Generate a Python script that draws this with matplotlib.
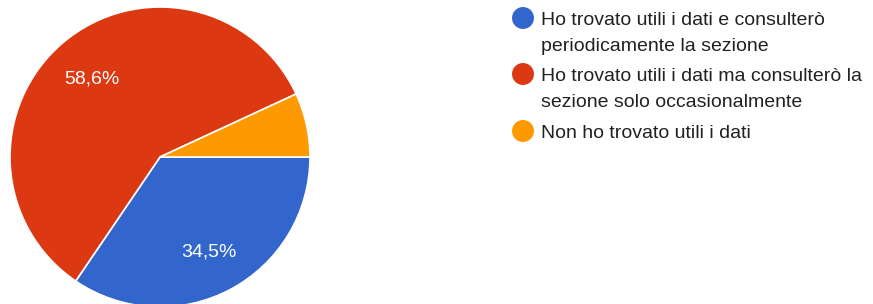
import matplotlib.pyplot as plt

labels = ["Ho trovato utili i dati e consulterò\nperiodicamente la sezione",
          "Ho trovato utili i dati ma consulterò la\nsezione solo occasionalmente",
          "Non ho trovato utili i dati"]
values = [34.5, 58.6, 6.9]
colors = ["#3366cc", "#dc3912", "#ff9900"]

plt.rcParams['font.family'] = ['Liberation Sans', 'DejaVu Sans']

W, H = 873, 304
fig = plt.figure(figsize=(W / 100, H / 100), dpi=100)

# pie, centre ~ (160, 157) px, radius 150 px
ax = fig.add_axes([10 / W, (H - 307) / H, 300 / W, 300 / H])

def pct(p):
    return f"{p:.1f}%".replace(".", ",") if p > 10 else ""

wedges, texts, autotexts = ax.pie(values, colors=colors, startangle=0, counterclock=False,
                                  autopct=pct, pctdistance=0.7,
                                  wedgeprops=dict(edgecolor="white", linewidth=1.2),
                                  textprops=dict(color="white", fontsize=14))
for t in autotexts:
    t.set_va("center_baseline")
ax.set_xlim(-1, 1)
ax.set_ylim(-1, 1)
ax.set_aspect("equal")

# legend drawn in pixel coordinates
lax = fig.add_axes([0, 0, 1, 1])
lax.set_xlim(0, W)
lax.set_ylim(H, 0)
lax.axis("off")
ys = [18, 74, 131]
for y, lab, c in zip(ys, labels, colors):
    lax.scatter([523], [y], s=250, color=c, edgecolor="none")
    for i, line in enumerate(lab.split("\n")):
        lax.text(541, y + 7 + i * 26, line, fontsize=14, color="#212121",
                 va="baseline", ha="left")

fig.savefig("out.png", dpi=100)
